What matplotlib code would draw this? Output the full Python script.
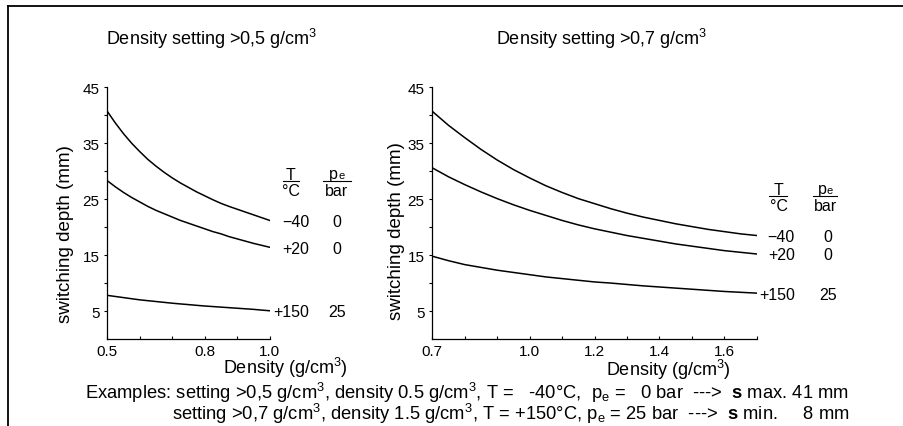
import matplotlib
matplotlib.use('Agg')
import matplotlib.pyplot as plt
from matplotlib.lines import Line2D

plt.rcParams['font.family'] = ['Liberation Sans', 'DejaVu Sans']
plt.rcParams['mathtext.fontset'] = 'custom'
plt.rcParams['mathtext.rm'] = 'Liberation Sans'
plt.rcParams['mathtext.it'] = 'Liberation Sans:italic'
plt.rcParams['mathtext.bf'] = 'Liberation Sans:bold'

W, H = 904, 427

# density setting > 0,5 g/cm3
dens_a = [0.5, 0.525, 0.55, 0.575, 0.6, 0.625, 0.65, 0.675, 0.7, 0.725, 0.75,
          0.775, 0.8, 0.825, 0.85, 0.875, 0.9, 0.925, 0.95, 0.975, 1.0]
depth_a_m40 = [40.7, 38.6, 36.7, 35.0, 33.5, 32.1, 30.9, 29.8, 28.8, 27.9, 27.1,
               26.3, 25.6, 24.9, 24.25, 23.7, 23.2, 22.7, 22.2, 21.7, 21.2]
depth_a_p20 = [28.3, 27.2, 26.2, 25.3, 24.5, 23.7, 23.0, 22.4, 21.8, 21.2, 20.7,
               20.2, 19.7, 19.2, 18.8, 18.3, 17.9, 17.5, 17.1, 16.75, 16.4]
depth_a_p150 = [7.8, 7.6, 7.4, 7.2, 7.0, 6.85, 6.7, 6.55, 6.4, 6.27, 6.15,
                6.02, 5.9, 5.8, 5.7, 5.6, 5.5, 5.4, 5.3, 5.17, 5.05]

# density setting > 0,7 g/cm3
dens_b = [0.7, 0.75, 0.8, 0.85, 0.9, 0.95, 1.0, 1.05, 1.1, 1.15, 1.2,
          1.25, 1.3, 1.35, 1.4, 1.45, 1.5, 1.55, 1.6, 1.65, 1.7]
depth_b_m40 = [40.7, 38.2, 36.0, 33.9, 32.0, 30.3, 28.8, 27.4, 26.2, 25.1, 24.2,
               23.3, 22.5, 21.8, 21.2, 20.6, 20.1, 19.6, 19.2, 18.8, 18.5]
depth_b_p20 = [30.6, 29.0, 27.6, 26.3, 25.1, 24.0, 23.0, 22.1, 21.2, 20.4, 19.7,
               19.1, 18.5, 18.0, 17.5, 17.0, 16.6, 16.2, 15.8, 15.5, 15.2]
depth_b_p150 = [14.8, 14.0, 13.3, 12.8, 12.3, 11.9, 11.5, 11.1, 10.8, 10.5, 10.2,
                10.0, 9.75, 9.5, 9.3, 9.1, 8.9, 8.7, 8.5, 8.35, 8.2]

temps = ['\u221240', '+20', '+150']
pressures = ['0', '0', '25']

xticks_a = [0.5, 0.6, 0.7, 0.8, 0.9, 1.0]
xlabels_a = ['0.5', '', '', '0.8', '', '1.0']
xticks_b = [0.7, 0.8, 0.9, 1.0, 1.1, 1.2, 1.3, 1.4, 1.5, 1.6, 1.7]
xlabels_b = ['0.7', '', '', '1.0', '', '1.2', '', '1.4', '', '1.6', '']
yticks = [5, 15, 25, 35, 45]
yticks_minor = [10, 20, 30, 40]


def fx(x):
    return x / W


def fy(y):
    return 1 - y / H


fig = plt.figure(figsize=(W / 100, H / 100), dpi=100)

# frame lines (top and left only)
fig.add_artist(Line2D([fx(8), 1], [fy(7), fy(7)], transform=fig.transFigure,
                      color='black', lw=1.3))
fig.add_artist(Line2D([fx(8), fx(8)], [fy(7), 0], transform=fig.transFigure,
                      color='black', lw=1.3))


def panel(left, right, dens, curves, xticks, xlabels, xlim, lab_dx, p_dx):
    ax = fig.add_axes([fx(left), fy(340), fx(right - left), (340 - 88.3) / H])
    for c in curves:
        ax.plot(dens, c, color='black', lw=1.1)
    ax.set_xlim(*xlim)
    ax.set_ylim(0, 45)
    ax.spines['top'].set_visible(False)
    ax.spines['right'].set_visible(False)
    for s in ('left', 'bottom'):
        ax.spines[s].set_linewidth(0.9)
    ax.set_yticks(yticks)
    ax.set_yticks(yticks_minor, minor=True)
    ax.set_xticks(xticks)
    ax.set_xticklabels(xlabels)
    ax.tick_params(axis='y', which='both', direction='out', length=2.5, width=0.8,
                   pad=3, labelsize=11)
    ax.tick_params(axis='x', direction='in', length=2.5, width=0.8, pad=3.5,
                   labelsize=11)
    for c, t, p in zip(curves, temps, pressures):
        ax.annotate(t, xy=(dens[-1], c[-1]), xytext=(lab_dx, -1),
                    textcoords='offset pixels', ha='right', va='center',
                    fontsize=11.5, annotation_clip=False)
        ax.annotate(p, xy=(dens[-1], c[-1]), xytext=(p_dx, -1),
                    textcoords='offset pixels', ha='center', va='center',
                    fontsize=11.5, annotation_clip=False)
    return ax


panel(107.3, 269.7, dens_a, [depth_a_m40, depth_a_p20, depth_a_p150],
      xticks_a, xlabels_a, (0.5, 1.0), 39.6, 67)
panel(432.3, 756.7, dens_b, [depth_b_m40, depth_b_p20, depth_b_p150],
      xticks_b, xlabels_b, (0.7, 1.7), 38.3, 71.5)


def header(tx, px_, ytop, t_bar, p_bar):
    fig.text(fx(tx), fy(ytop + 9), 'T', ha='center', va='baseline', fontsize=11.5)
    fig.text(fx(tx), fy(ytop + 24.5), '\u00b0C', ha='center', va='baseline', fontsize=11.5)
    fig.text(fx(px_ + 1.5), fy(ytop + 7.5), 'p', ha='right', va='baseline', fontsize=11.5)
    fig.text(fx(px_ + 1.5), fy(ytop + 7.5), 'e', ha='left', va='baseline', fontsize=8)
    fig.text(fx(px_), fy(ytop + 24.5), 'bar', ha='center', va='baseline', fontsize=11.5)
    yb = fy(ytop + 10.5)
    fig.add_artist(Line2D([fx(t_bar[0]), fx(t_bar[1])], [yb, yb],
                          transform=fig.transFigure, color='black', lw=0.8))
    fig.add_artist(Line2D([fx(p_bar[0]), fx(p_bar[1])], [yb, yb],
                          transform=fig.transFigure, color='black', lw=0.8))


header(291, 336.7, 171.5, (282.7, 299.3), (322.7, 350.7))
header(778.7, 825, 186.5, (769.3, 786.7), (812.7, 837.3))

sup3 = '$^\\mathregular{3}$'
fig.text(fx(212), fy(45), 'Density setting >0,5 g/cm' + sup3, ha='center',
         va='baseline', fontsize=13)
fig.text(fx(601.5), fy(45), 'Density setting >0,7 g/cm' + sup3, ha='center',
         va='baseline', fontsize=13)
fig.text(fx(285.5), fy(374.5), 'Density (g/cm' + sup3 + ')', ha='center',
         va='baseline', fontsize=13)
fig.text(fx(668), fy(376), 'Density (g/cm' + sup3 + ')', ha='center',
         va='baseline', fontsize=13)
fig.text(fx(66), fy(234.5), 'switching depth (mm)', rotation=90, ha='center',
         va='center', fontsize=13.5)
fig.text(fx(396.5), fy(231), 'switching depth (mm)', rotation=90, ha='center',
         va='center', fontsize=13.5)

pe = 'p$_\\mathregular{e}$'
bold_s = '$\\mathbf{s}$'
line1 = ('Examples: setting >0,5 g/cm' + sup3 + ', density 0.5 g/cm' + sup3 +
         ', T =   -40\u00b0C,  ' + pe + ' =   0 bar  --->  ' + bold_s +
         ' max. 41 mm')
line2 = ('setting >0,7 g/cm' + sup3 + ', density 1.5 g/cm' + sup3 +
         ', T = +150\u00b0C, ' + pe + ' = 25 bar  --->  ' + bold_s +
         ' min.     8 mm')
fig.text(fx(85), fy(399), line1, ha='left', va='baseline', fontsize=13.25)
fig.text(fx(171.7), fy(420), line2, ha='left', va='baseline', fontsize=13.25)

fig.savefig('out.png', dpi=100)
